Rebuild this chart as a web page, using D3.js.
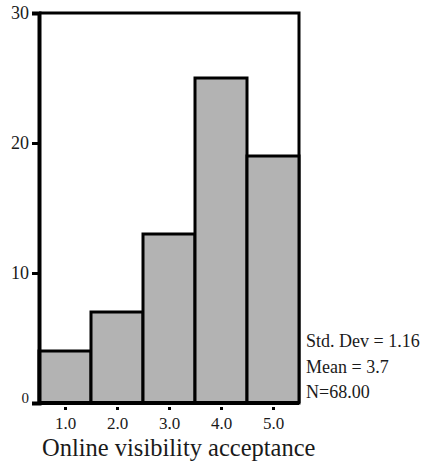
<!DOCTYPE html>
<html>
<head>
<meta charset="utf-8">
<script src="https://cdn.jsdelivr.net/npm/d3@7"></script>
<style>
  body { margin: 0; background: #fff; }
  svg text { font-family: "Liberation Serif", "Times New Roman", serif; fill: #1a1a1a; }
</style>
</head>
<body>
<div id="chart"></div>
<script>
const bins = [1.0, 2.0, 3.0, 4.0, 5.0];
const counts = [4, 7, 13, 25, 19];
const yTicks = [0, 10, 20, 30];
const stats = ["Std. Dev = 1.16", "Mean = 3.7", "N=68.00"];

const width = 421;
const height = 462;
const margin = {top: 13, bottom: 59, left: 39, right: 122};

const x = d3.scaleLinear()
    .domain([0.5, 5.5])
    .range([margin.left, width - margin.right]);

const y = d3.scaleLinear()
    .domain([0, 30])
    .range([height - margin.bottom, margin.top]);

const svg = d3.select('#chart')
    .append('svg')
    .attr('width', width)
    .attr('height', height);

// frame top and right
svg.append('path')
    .attr('d', `M${x(0.5)},${y(30)}H${x(5.5)}V${y(0)}`)
    .attr('fill', 'none')
    .attr('stroke', '#000')
    .attr('stroke-width', 3);

// bars
svg.selectAll('.bar')
    .data(bins)
    .enter()
    .append('rect')
    .attr('class', 'bar')
    .attr('x', d => x(d - 0.5))
    .attr('y', (d, i) => y(counts[i]))
    .attr('width', d => x(d + 0.5) - x(d - 0.5))
    .attr('height', (d, i) => y(0) - y(counts[i]))
    .attr('fill', '#b3b3b3')
    .attr('stroke', '#000')
    .attr('stroke-width', 3);

// y axis
const yAxis = svg.append('g')
    .attr('transform', `translate(${x(0.5)},0)`)
    .call(d3.axisLeft(y).tickValues(yTicks).tickSize(7).tickPadding(3).tickFormat(d3.format('d')));
yAxis.attr('font-family', '"Liberation Serif", serif').attr('font-size', 18);
yAxis.select('.domain').attr('stroke', '#000').attr('stroke-width', 4);
yAxis.selectAll('.tick line').attr('stroke', '#000').attr('stroke-width', 3);
yAxis.selectAll('.tick text')
    .attr('font-size', d => d === 0 ? 15 : 18)
    .attr('dy', d => d === 0 ? '-0.05em' : '0.32em');

// x axis
const xAxis = svg.append('g')
    .attr('transform', `translate(0,${y(0)})`)
    .call(d3.axisBottom(x).tickValues(bins).tickSize(7).tickPadding(7).tickFormat(d3.format('.1f')));
xAxis.attr('font-family', '"Liberation Serif", serif').attr('font-size', 17);
xAxis.select('.domain').attr('stroke', '#000').attr('stroke-width', 4)
    .attr('d', `M${x(0.5)},0H${x(5.5)}`);
xAxis.selectAll('.tick line').attr('stroke', '#000').attr('stroke-width', 3).attr('y1', 4);

// x axis title
svg.append('text')
    .attr('x', 42)
    .attr('y', 456)
    .attr('font-size', 24.5)
    .text('Online visibility acceptance');

// stats
svg.selectAll('.stat')
    .data(stats)
    .enter()
    .append('text')
    .attr('class', 'stat')
    .attr('x', 306)
    .attr('y', (d, i) => 347 + i * 25.5)
    .attr('font-size', 18)
    .text(d => d);
</script>
</body>
</html>
